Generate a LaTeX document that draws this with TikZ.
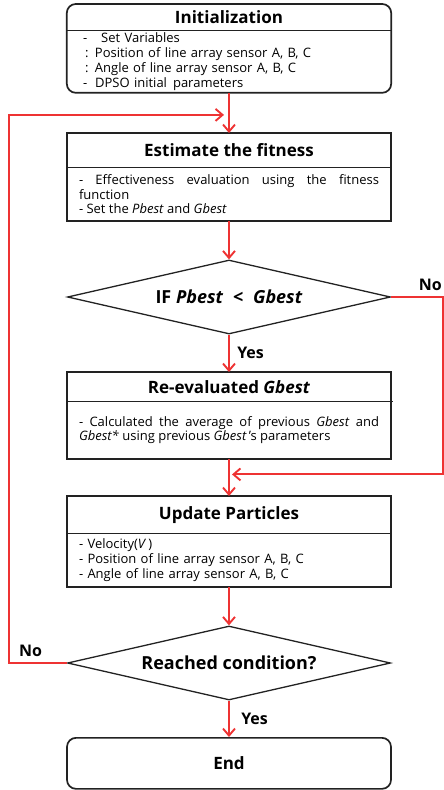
\documentclass[tikz,border=0pt]{standalone}
\usepackage{fontspec}
\setmainfont{Open Sans}
\usetikzlibrary{positioning,calc,shapes.geometric,arrows.meta,fit}
\definecolor{flowred}{HTML}{EE3333}
\definecolor{boxline}{HTML}{222222}

\tikzset{
  boxtitle/.style={minimum width=324pt, inner sep=0pt, anchor=north,
    font=\fontsize{17}{19}\selectfont\bfseries},
  boxbody/.style={text width=300pt, inner xsep=12pt, inner ysep=0pt, anchor=north,
    align=justify, font=\fontsize{13}{14.8}\selectfont},
  frame/.style={draw=boxline, line width=1.7pt, inner sep=0pt},
  divider/.style={draw=boxline, line width=1.2pt},
  decision/.style={diamond, aspect=4.4, draw=boxline, line width=1.3pt, inner sep=0pt,
    minimum width=323pt, minimum height=74pt, font=\fontsize{18}{20}\selectfont\bfseries},
  flow/.style={draw=flowred, line width=1.9pt, -{Straight Barb[length=7pt,width=12pt,line width=1.9pt]}},
  branch/.style={font=\fontsize{16}{18}\selectfont\bfseries}
}

\begin{document}
\begin{tikzpicture}[x=1pt, y=-1pt]
  \useasboundingbox (0,0) rectangle (444,790);

  % initialization
  \node[boxtitle, minimum height=26pt] (inittitle) at (229,4) {Initialization};
  \node[boxbody, minimum height=62pt, align=left, below=0pt of inittitle] (initbody) {%
    \hspace*{4pt}-\hspace{14pt}Set Variables\\
    \hspace*{6pt}: Position of line array sensor A, B, C\\
    \hspace*{6pt}: Angle of line array sensor A, B, C\\
    \hspace*{4pt}-\hspace{8pt}DPSO initial\hspace{6pt}parameters};
  \node[frame, rounded corners=9pt, fit=(inittitle)(initbody)] (init) {};
  \draw[divider] (inittitle.south west) -- (inittitle.south east);

  % fitness
  \node[boxtitle, minimum height=34pt] (esttitle) at (229,133) {Estimate the fitness};
  \node[boxbody, minimum height=53pt, below=0pt of esttitle] (estbody) {%
    - Effectiveness evaluation using the fitness\linebreak function\\
    - Set the \textit{Pbest} and \textit{Gbest}};
  \node[frame, fit=(esttitle)(estbody)] (est) {};
  \draw[divider] (esttitle.south west) -- (esttitle.south east);

  % decision 1
  \node[decision] (cmp) at (229,297) {IF \textit{Pbest} \;<\; \textit{Gbest}};

  % re-evaluation
  \node[boxtitle, minimum height=29pt] (revtitle) at (229,372) {Re-evaluated \textit{Gbest}};
  \node[boxbody, minimum height=57pt, below=0pt of revtitle] (revbody) {%
    - Calculated the average of previous \textit{Gbest} and\linebreak
    \textit{Gbest*} using previous \textit{Gbest}\,'s parameters};
  \node[frame, fit=(revtitle)(revbody)] (rev) {};
  \draw[divider] (revtitle.south west) -- ([xshift=2pt]revtitle.south east);

  % update
  \node[boxtitle, minimum height=37pt] (updtitle) at (229,496) {Update Particles};
  \node[boxbody, minimum height=53pt, align=left, below=0pt of updtitle] (updbody) {%
    - Velocity(\textit{V}\,)\\
    - Position of line array sensor A, B, C\\
    - Angle of line array sensor A, B, C};
  \node[frame, fit=(updtitle)(updbody)] (upd) {};
  \draw[divider] (updtitle.south west) -- (updtitle.south east);

  % decision 2
  \node[decision] (stop) at (229,663) {Reached condition?};

  % end
  \node[frame, rounded corners=9pt, minimum width=324pt, minimum height=51pt, anchor=north,
    font=\fontsize{17}{19}\selectfont\bfseries] (fin) at (229,737) {End};

  % joints
  \coordinate (loopin) at ($(initbody.south)!0.55!(esttitle.north)$);
  \coordinate (skipin) at ($(revbody.south)!0.42!(updtitle.north)$);

  % connectors
  \draw[flow] (initbody.south) -- (esttitle.north);
  \draw[flow] (estbody.south) -- (cmp.north);
  \draw[flow] (cmp.south) -- node[branch, right=4pt] {Yes} (revtitle.north);
  \draw[flow] (revbody.south) -- (updtitle.north);
  \draw[flow] (updbody.south) -- (stop.north);
  \draw[flow] (stop.south) -- node[branch, right=8pt] {Yes} (fin.north);
  \draw[flow, shorten >=3pt] (cmp.east) -- ++(52,0) node[branch, above left=2pt and -3pt] {No} |- (skipin);
  \draw[flow, shorten >=5pt] (stop.west) -- ++(-58,0) node[branch, above right=2pt and 6pt] {No} |- (loopin);
\end{tikzpicture}
\end{document}
